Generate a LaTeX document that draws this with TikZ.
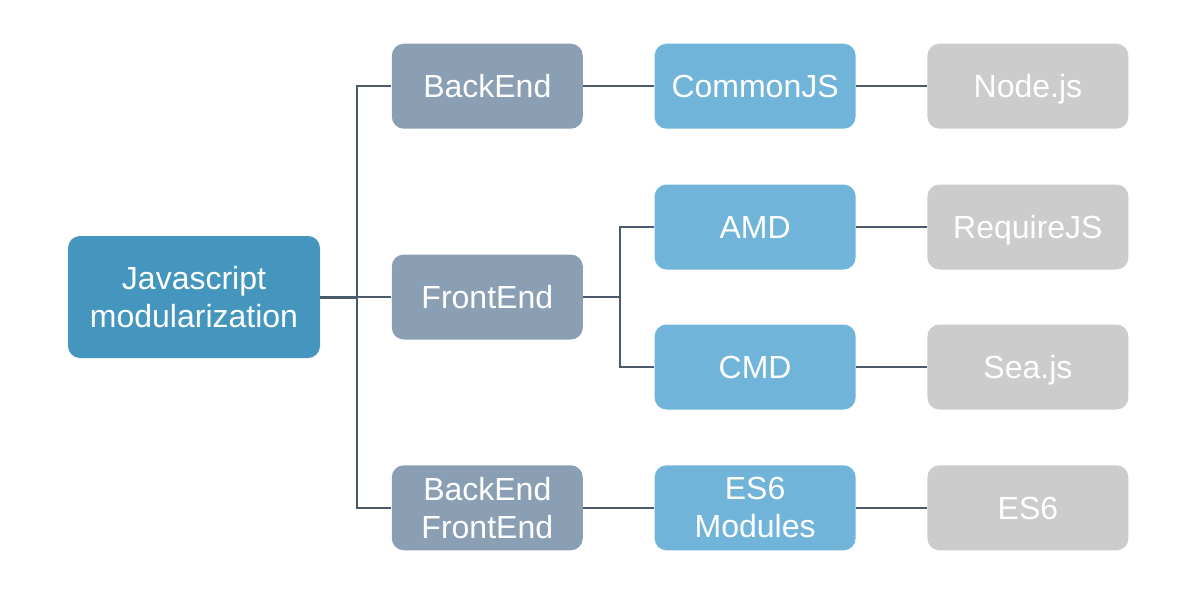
\documentclass[tikz,border=0pt]{standalone}
\usepackage{fontspec}
\setmainfont{Liberation Sans}
\usetikzlibrary{positioning}

\definecolor{rootblue}{HTML}{4596BE}
\definecolor{slateblue}{HTML}{8A9FB4}
\definecolor{skyblue}{HTML}{70B4DA}
\definecolor{paleGray}{HTML}{CCCCCC}
\definecolor{linkgray}{HTML}{4B5A6B}

\tikzset{
  box/.style={rounded corners=6pt, text=white, align=center,
              font=\fontsize{16}{19}\selectfont, inner sep=0pt,
              text height=11.5pt, text depth=0pt},
  twoline/.style={text height={}, text depth={}},
  root/.style={box, twoline, fill=rootblue, minimum width=126pt, minimum height=61pt},
  side/.style={box, fill=slateblue, minimum width=95.5pt, minimum height=42.5pt},
  spec/.style={box, fill=skyblue, minimum width=100.5pt, minimum height=42.5pt},
  impl/.style={box, fill=paleGray, minimum width=100.5pt, minimum height=42.5pt},
  link/.style={draw=linkgray, line width=1pt}
}

\begin{document}
\begin{tikzpicture}[x=0.5pt,y=-0.5pt]
\useasboundingbox (0,0) rectangle (1195,595);

\node    (js)    [root] at (194,297)             {Javascript\\modularization};
\node    (fe)    [side, right=35.5pt of js]      {FrontEnd};
\node    (be)    [side, above=62.5pt of fe]      {BackEnd};
\node    (bf)    [side, twoline, below=62.5pt of fe]  {BackEnd\\FrontEnd};

\node    (cjs)   [spec, right=35.5pt of be]              {CommonJS};
\node    (amd)   [spec, right=35.5pt of fe, yshift=35pt] {AMD};
\node    (cmd)   [spec, right=35.5pt of fe, yshift=-35pt]{CMD};
\node    (esm)   [spec, twoline, right=35.5pt of bf]     {ES6\\Modules};

\node    (node)  [impl, right=35.5pt of cjs]   {Node.js};
\node    (req)   [impl, right=35.5pt of amd]   {RequireJS};
\node    (sea)   [impl, right=35.5pt of cmd]   {Sea.js};
\node    (es6)   [impl, right=35.5pt of esm]   {ES6};

\draw    [link, line width=1.5pt]  (js.east) -- ++(18.5pt,0) coordinate (t1);
\draw    [link]  (t1) |- (be);
\draw    [link]  (t1) -- (fe);
\draw    [link]  (t1) |- (bf);

\draw    [link]  (fe.east) -- ++(18.5pt,0) coordinate (t2);
\draw    [link]  (t2) |- (amd);
\draw    [link]  (t2) |- (cmd);

\path    [link]  (be)  edge (cjs)  (cjs) edge (node);
\path    [link]  (amd) edge (req)  (cmd) edge (sea);
\path    [link]  (bf)  edge (esm)  (esm) edge (es6);
\end{tikzpicture}
\end{document}
